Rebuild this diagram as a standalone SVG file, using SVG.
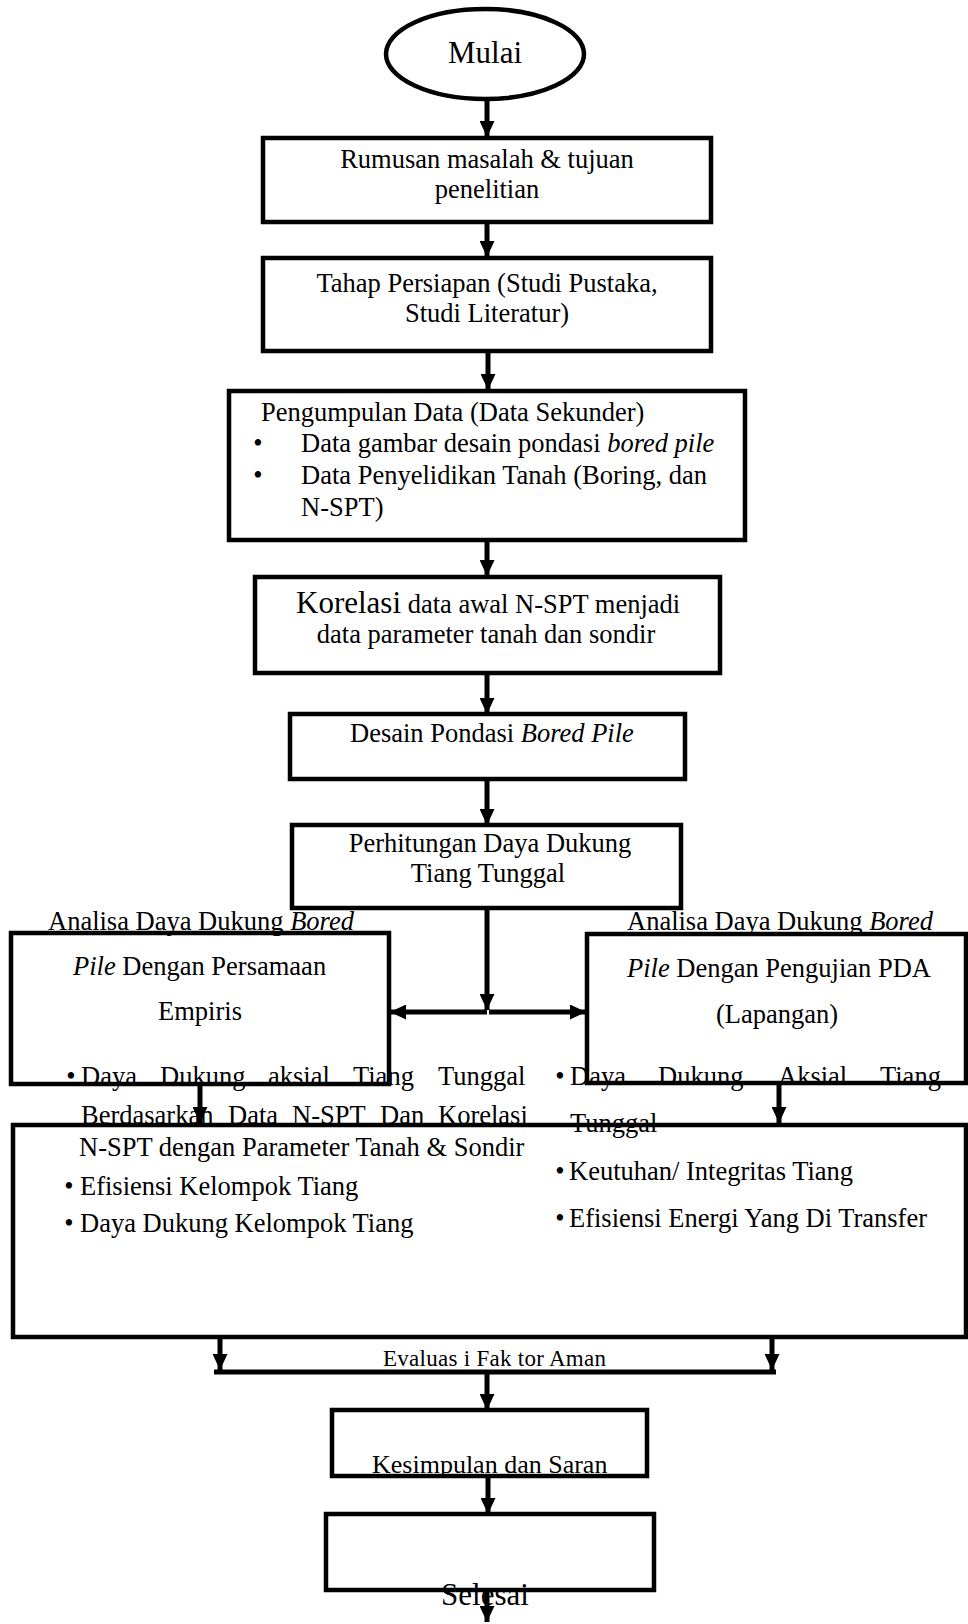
<svg xmlns="http://www.w3.org/2000/svg" width="968" height="1624" viewBox="0 0 968 1624">
<style>
text{font-family:"Liberation Serif","Times New Roman",serif;fill:#000;font-size:26.5px}
.box{fill:none;stroke:#000;stroke-width:4.5}
.c{stroke:#000;stroke-width:5;fill:none}
.m{text-anchor:middle}
.i{font-style:italic}
</style>
<defs>
<marker id="ah" markerUnits="userSpaceOnUse" markerWidth="17" markerHeight="15" refX="16" refY="7.5" orient="auto">
<path d="M0,0 L16,7.5 L0,15 z" fill="#000"/>
</marker>
</defs>
<rect width="968" height="1624" fill="#fff"/>

<g id="connectors">
<line class="c" x1="487" y1="99" x2="487" y2="137" marker-end="url(#ah)"/>
<line class="c" x1="487" y1="222" x2="487" y2="257" marker-end="url(#ah)"/>
<line class="c" x1="488" y1="351" x2="488" y2="390" marker-end="url(#ah)"/>
<line class="c" x1="487" y1="540" x2="487" y2="576" marker-end="url(#ah)"/>
<line class="c" x1="487" y1="673" x2="487" y2="714" marker-end="url(#ah)"/>
<line class="c" x1="487" y1="779" x2="487" y2="825" marker-end="url(#ah)"/>
<line class="c" x1="487" y1="908" x2="487" y2="1010" marker-end="url(#ah)"/>
<line class="c" x1="487" y1="1012" x2="390" y2="1012" marker-end="url(#ah)"/>
<line class="c" x1="489" y1="1012" x2="586" y2="1012" marker-end="url(#ah)"/>
<line class="c" x1="200" y1="1084" x2="200" y2="1123" marker-end="url(#ah)"/>
<line class="c" x1="779" y1="1083" x2="779" y2="1123" marker-end="url(#ah)"/>
<line class="c" x1="220" y1="1337" x2="220" y2="1370" marker-end="url(#ah)"/>
<line class="c" x1="772" y1="1337" x2="772" y2="1370" marker-end="url(#ah)"/>
<line class="c" x1="214" y1="1372" x2="776" y2="1372"/>
<line class="c" x1="487" y1="1374" x2="487" y2="1410" marker-end="url(#ah)"/>
<line class="c" x1="488" y1="1476" x2="488" y2="1514" marker-end="url(#ah)"/>
<line class="c" x1="487" y1="1590" x2="487" y2="1622" marker-end="url(#ah)"/>
</g>

<g id="mulai">
<ellipse cx="485" cy="54" rx="99" ry="45" class="box"/>
<text x="485" y="63" class="m" style="font-size:31px">Mulai</text>
</g>

<g id="rumusan">
<rect x="263" y="138" width="448" height="84" class="box"/>
<text x="487" y="168" class="m">Rumusan masalah &amp; tujuan</text>
<text x="487" y="198" class="m">penelitian</text>
</g>

<g id="persiapan">
<rect x="263" y="258" width="448" height="93" class="box"/>
<text x="487" y="292" class="m">Tahap Persiapan (Studi Pustaka,</text>
<text x="487" y="322" class="m">Studi Literatur)</text>
</g>

<g id="pengumpulan">
<rect x="229" y="391" width="516" height="149" class="box"/>
<text x="261" y="421">Pengumpulan Data (Data Sekunder)</text>
<text x="258" y="452" class="m">•</text>
<text x="301" y="452">Data gambar desain pondasi <tspan class="i">bored pile</tspan></text>
<text x="258" y="484" class="m">•</text>
<text x="301" y="484">Data Penyelidikan Tanah (Boring, dan</text>
<text x="301" y="516">N-SPT)</text>
</g>

<g id="korelasi">
<rect x="255" y="577" width="465" height="96" class="box"/>
<text x="296" y="613"><tspan style="font-size:31px">Korelasi</tspan> data awal N-SPT menjadi</text>
<text x="486" y="643" class="m">data parameter tanah dan sondir</text>
</g>

<g id="desain">
<rect x="290" y="714" width="395" height="65" class="box"/>
<text x="350" y="742">Desain Pondasi <tspan class="i">Bored Pile</tspan></text>
</g>

<g id="perhitungan">
<rect x="292" y="825" width="389" height="83" class="box"/>
<text x="490" y="852" class="m">Perhitungan Daya Dukung</text>
<text x="488" y="882" class="m">Tiang Tunggal</text>
</g>

<g id="empiris">
<rect x="11" y="933" width="378" height="151" class="box"/>
<text x="48" y="930">Analisa Daya Dukung <tspan class="i">Bored</tspan></text>
<text x="73" y="975"><tspan class="i">Pile</tspan> Dengan Persamaan</text>
<text x="200" y="1020" class="m">Empiris</text>
</g>

<g id="pda">
<rect x="587" y="934" width="379" height="149" class="box"/>
<text x="627" y="930">Analisa Daya Dukung <tspan class="i">Bored</tspan></text>
<text x="627" y="977"><tspan class="i">Pile</tspan> Dengan Pengujian PDA</text>
<text x="777" y="1023" class="m">(Lapangan)</text>
</g>

<g id="hasil">
<rect x="13" y="1125" width="953" height="212" class="box"/>
<text x="71" y="1085" class="m">•</text>
<text y="1085"><tspan x="81">Daya</tspan><tspan x="160">Dukung</tspan><tspan x="268">aksial</tspan><tspan x="353">Tiang</tspan><tspan x="438">Tunggal</tspan></text>
<text y="1124"><tspan x="81">Berdasarkan</tspan><tspan x="228">Data</tspan><tspan x="292">N-SPT</tspan><tspan x="380">Dan</tspan><tspan x="438">Korelasi</tspan></text>
<text x="79" y="1156">N-SPT dengan Parameter Tanah &amp; Sondir</text>
<text x="69" y="1195" class="m">•</text>
<text x="80" y="1195">Efisiensi Kelompok Tiang</text>
<text x="69" y="1232" class="m">•</text>
<text x="80" y="1232">Daya Dukung Kelompok Tiang</text>
<text x="560" y="1085" class="m">•</text>
<text y="1085"><tspan x="570">Daya</tspan><tspan x="658">Dukung</tspan><tspan x="778">Aksial</tspan><tspan x="880">Tiang</tspan></text>
<text x="570" y="1132">Tunggal</text>
<text x="560" y="1180" class="m">•</text>
<text x="569" y="1180">Keutuhan/ Integritas Tiang</text>
<text x="560" y="1227" class="m">•</text>
<text x="569" y="1227">Efisiensi Energi Yang Di Transfer</text>
</g>

<g id="evaluasi">
<text x="383" y="1366" style="font-size:23px" textLength="223" lengthAdjust="spacing">Evaluas i Fak tor Aman</text>
</g>

<g id="kesimpulan">
<rect x="332" y="1410" width="315" height="66" class="box"/>
<text x="372" y="1473" style="font-size:26px">Kesimpulan dan Saran</text>
</g>

<g id="selesai">
<rect x="326" y="1514" width="328" height="76" class="box"/>
<text x="485" y="1605" class="m" style="font-size:31px">Selesai</text>
</g>
</svg>
